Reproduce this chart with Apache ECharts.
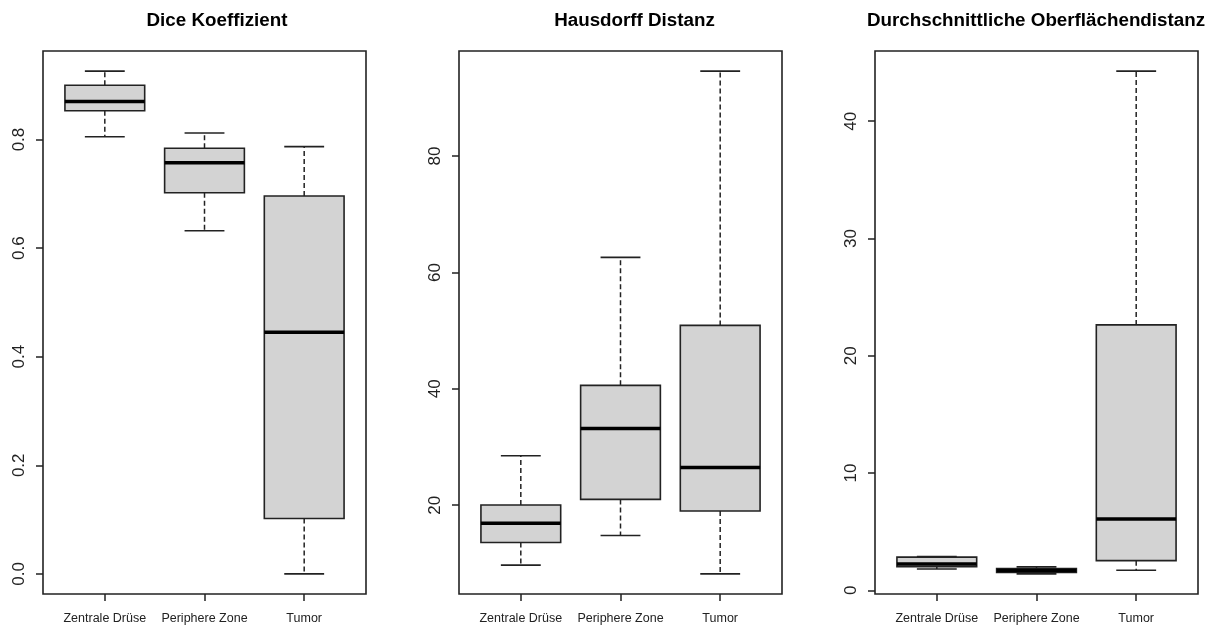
<!DOCTYPE html>
<html>
<head>
<meta charset="utf-8">
<script src="https://cdn.jsdelivr.net/npm/echarts@6/dist/echarts.min.js"></script>
<style>html,body{margin:0;padding:0;background:#fff}#c{width:1216px;height:628px}</style>
</head>
<body>
<div id="c"></div>
<script>
const categories = ['Zentrale Drüse', 'Periphere Zone', 'Tumor'];
const titles = ['Dice Koeffizient', 'Hausdorff Distanz', 'Durchschnittliche Oberflächendistanz'];
// five-number summaries: [min, Q1, median, Q3, max]
const diceValues = [
  [0.805, 0.853, 0.870, 0.900, 0.926],
  [0.632, 0.702, 0.757, 0.784, 0.812],
  [0.000, 0.102, 0.445, 0.696, 0.787]
];
const hausdorffValues = [
  [9.7, 13.6, 16.9, 20.05, 28.5],
  [14.8, 21.0, 33.2, 40.6, 62.6],
  [8.2, 19.0, 26.5, 50.9, 94.6]
];
const surfaceValues = [
  [1.82, 2.02, 2.25, 2.83, 2.88],
  [1.40, 1.52, 1.68, 1.85, 2.00],
  [1.71, 2.53, 6.09, 22.63, 44.27]
];
const diceTicks = [0, 0.2, 0.4, 0.6, 0.8];
const hausdorffTicks = [20, 40, 60, 80];
const surfaceTicks = [0, 10, 20, 30, 40];

const panels = [
  { values: diceValues, ticks: diceTicks, fmt: v => v.toFixed(1), left: 43, titleX: 217 },
  { values: hausdorffValues, ticks: hausdorffTicks, fmt: v => String(v), left: 459, titleX: 634.5 },
  { values: surfaceValues, ticks: surfaceTicks, fmt: v => String(v), left: 875, titleX: 1036 }
];
const PW = 323, TOP = 51, PH = 543;
const FONT = '"Liberation Sans", Arial, Helvetica, sans-serif';
const INK = '#222';

function renderBox(params, api) {
  const x = api.value(0);
  const pMin = api.coord([x, api.value(1)]);
  const pQ1 = api.coord([x, api.value(2)]);
  const pMed = api.coord([x, api.value(3)]);
  const pQ3 = api.coord([x, api.value(4)]);
  const pMax = api.coord([x, api.value(5)]);
  const bw = api.size([0.8, 0])[0];
  const cw = api.size([0.4, 0])[0];
  const cx = pMed[0];
  const dash = { stroke: INK, lineWidth: 1.5, lineDash: [5, 3] };
  const solid = { stroke: INK, lineWidth: 1.6 };
  return {
    type: 'group',
    children: [
      { type: 'line', shape: { x1: cx, y1: pQ3[1], x2: cx, y2: pMax[1] }, style: dash },
      { type: 'line', shape: { x1: cx, y1: pQ1[1], x2: cx, y2: pMin[1] }, style: dash },
      { type: 'line', shape: { x1: cx - cw / 2, y1: pMax[1], x2: cx + cw / 2, y2: pMax[1] }, style: solid },
      { type: 'line', shape: { x1: cx - cw / 2, y1: pMin[1], x2: cx + cw / 2, y2: pMin[1] }, style: solid },
      { type: 'rect', shape: { x: cx - bw / 2, y: pQ3[1], width: bw, height: pQ1[1] - pQ3[1] },
        style: { fill: '#D3D3D3', stroke: INK, lineWidth: 1.6 } },
      { type: 'line', shape: { x1: cx - bw / 2, y1: pMed[1], x2: cx + bw / 2, y2: pMed[1] },
        style: { stroke: '#000', lineWidth: 3.5 } }
    ]
  };
}

const grid = [], xAxis = [], yAxis = [], series = [], graphic = [];
panels.forEach((p, i) => {
  let lo = Infinity, hi = -Infinity;
  p.values.forEach(r => { lo = Math.min(lo, r[0]); hi = Math.max(hi, r[4]); });
  const pad = (hi - lo) * 0.04;
  grid.push({ left: p.left, top: TOP, width: PW, height: PH, show: true,
    borderColor: INK, borderWidth: 1.6, backgroundColor: 'transparent' });
  xAxis.push({
    type: 'value', gridIndex: i, min: 0.38, max: 3.62,
    axisLine: { show: false, onZero: false }, splitLine: { show: false },
    axisTick: { show: true, length: 7, customValues: [1, 2, 3], lineStyle: { color: INK, width: 1.5 } },
    axisLabel: { customValues: [1, 2, 3], formatter: v => categories[Math.round(v) - 1] || '',
      fontFamily: FONT, fontSize: 12.5, color: INK, margin: 18 }
  });
  yAxis.push({
    type: 'value', gridIndex: i, min: lo - pad, max: hi + pad,
    axisLine: { show: false, onZero: false }, splitLine: { show: false },
    axisTick: { show: true, length: 7, customValues: p.ticks, lineStyle: { color: INK, width: 1.5 } },
    axisLabel: { customValues: p.ticks, formatter: p.fmt, rotate: 90,
      fontFamily: FONT, fontSize: 17, color: INK, margin: 15 }
  });
  series.push({
    type: 'custom', xAxisIndex: i, yAxisIndex: i, renderItem: renderBox,
    encode: { x: 0, y: [1, 2, 3, 4, 5] }, clip: false, silent: true,
    data: p.values.map((r, k) => [k + 1].concat(r))
  });
  graphic.push({ type: 'text', x: p.titleX, y: 21,
    style: { text: titles[i], fontFamily: FONT, fontWeight: 'bold', fontSize: 18.8,
      fill: '#000', textAlign: 'center', textVerticalAlign: 'middle' } });
});

const chart = echarts.init(document.getElementById('c'), null, { renderer: 'canvas' });
chart.setOption({ backgroundColor: '#fff', animation: false, grid, xAxis, yAxis, series, graphic });
</script>
</body>
</html>
